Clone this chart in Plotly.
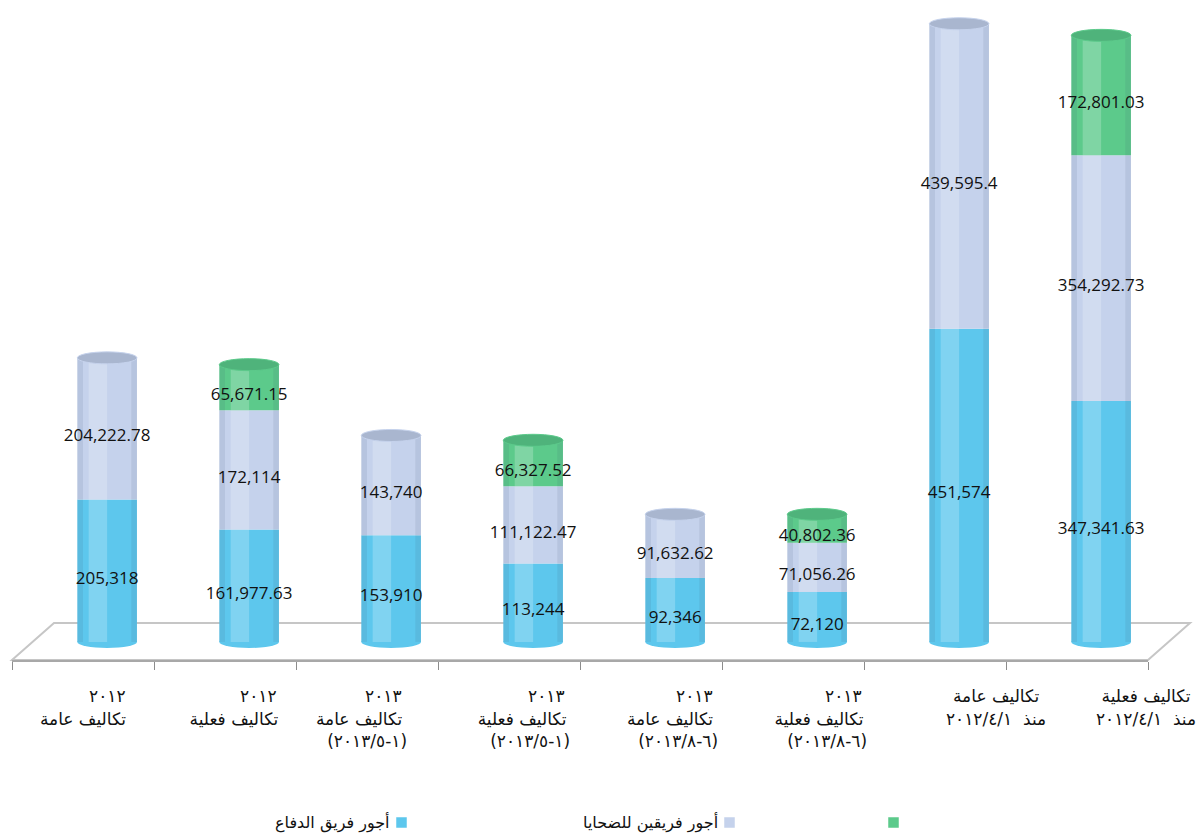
import plotly.graph_objects as go

# ---- data -------------------------------------------------------------
categories = [
    "٢٠١٢<br>تكاليف عامة",
    "٢٠١٢<br>تكاليف فعلية",
    "٢٠١٣<br>تكاليف عامة<br>\u202d(٢٠١٣/٥-١)\u202c",
    "٢٠١٣<br>تكاليف فعلية<br>\u202d(٢٠١٣/٥-١)\u202c",
    "٢٠١٣<br>تكاليف عامة<br>\u202d(٢٠١٣/٨-٦)\u202c",
    "٢٠١٣<br>تكاليف فعلية<br>\u202d(٢٠١٣/٨-٦)\u202c",
    "تكاليف عامة<br>\u202d٢٠١٢/٤/١\u202c  منذ",
    "تكاليف فعلية<br>\u202d٢٠١٢/٤/١\u202c  منذ",
]
defense_fees = [205318, 161977.63, 153910, 113244, 92346, 72120, 451574, 347341.63]
victims_fees = [204222.78, 172114, 143740, 111122.47, 91632.62, 71056.26, 439595.4, 354292.73]
third_series = [None, 65671.15, None, 66327.52, None, 40802.36, None, 172801.03]

series_names = ["أجور فريق الدفاع", "أجور فريقين للضحايا", ""]
series_colors = ["#5dc7ed", "#c5d2ec", "#5cca8b"]
cap_colors = ["#4fb4dc", "#a9b6cf", "#4fb37b"]

# label placement: offset of each label block from its category centre
# (in category widths) and the no-break-space padding that right-aligns
# the short lines of each block
label_shift = [0.0, 0.063, -0.056, 0.092, 0.134, 0.183, 0.43, 0.486]
line_pads = [(9, 0), (9, 0), (9, 0, 3), (9, 0, 3), (9, 0, 3), (9, 0, 3), (0, 0), (0, 0)]

idx = list(range(len(categories)))


def fmt(v):
    return f"{v:,.2f}".rstrip("0").rstrip(".")


def right_aligned(label, pads):
    lines = label.split("<br>")
    return "<br>".join("\u00a0" * n + line for n, line in zip(pads, lines))


tick_labels = [right_aligned(c, p) for c, p in zip(categories, line_pads)]
label_pos = [i + s for i, s in zip(idx, label_shift)]

fig = go.Figure()

series = [defense_fees, victims_fees, third_series]
bases = [[0] * len(idx), list(defense_fees),
         [d + v for d, v in zip(defense_fees, victims_fees)]]

# category axis: boundary ticks only
fig.add_trace(go.Scatter(x=categories, y=[None] * len(idx), showlegend=False,
                         hoverinfo="skip", mode="markers"))
# label axis
fig.add_trace(go.Scatter(x=label_pos, y=[None] * len(idx), xaxis="x3",
                         showlegend=False, hoverinfo="skip", mode="markers"))

for s, (vals, base) in enumerate(zip(series, bases)):
    fig.add_trace(go.Bar(
        x=idx, y=vals, base=base, width=0.42,
        name=series_names[s], xaxis="x2", showlegend=False,
        marker=dict(color=series_colors[s], line=dict(width=0)),
        hoverinfo="skip",
    ))
    # soft highlight and shaded rims give the bars a rounded look
    fig.add_trace(go.Bar(
        x=idx, y=vals, base=base, width=0.13, offset=-0.13,
        xaxis="x2", showlegend=False, hoverinfo="skip",
        marker=dict(color="rgba(255,255,255,0.22)", line=dict(width=0)),
    ))
    for off in (-0.21, 0.17):
        fig.add_trace(go.Bar(
            x=idx, y=vals, base=base, width=0.04, offset=off,
            xaxis="x2", showlegend=False, hoverinfo="skip",
            marker=dict(color="rgba(60,80,110,0.10)", line=dict(width=0)),
        ))

# value labels at the middle of each stacked segment
for s, (vals, base) in enumerate(zip(series, bases)):
    xs, ys, ts = [], [], []
    for i, (v, b) in enumerate(zip(vals, base)):
        if v is None:
            continue
        xs.append(i)
        ys.append(b + v / 2)
        ts.append(fmt(v))
    fig.add_trace(go.Scatter(
        x=xs, y=ys, text=ts, mode="text", textposition="bottom center",
        xaxis="x2", showlegend=False, hoverinfo="skip",
        textfont=dict(family="Open Sans", size=17, color="#111111"),
    ))


def px(x, y):
    return (x - 12) / 1136, (660 - y) / 650


# 3D floor
shapes = []
f = [px(12, 660), px(1148, 660), px(1190, 623), px(54, 623)]
shapes.append(dict(type="path", xref="paper", yref="paper", layer="below",
                   path="M {} {} L {} {} L {} {} L {} {} Z".format(*[c for p in f for c in p]),
                   line=dict(color="#c6c6c6", width=2), fillcolor="white"))

# cylinder ends
ell = 6 * 1442
for i in idx:
    t = defense_fees[i] + victims_fees[i] + (third_series[i] or 0)
    top = 2 if third_series[i] else 1
    shapes.append(dict(type="circle", xref="x2", yref="y", layer="below",
                       x0=i - 0.21, x1=i + 0.21, y0=-ell, y1=ell,
                       fillcolor=series_colors[0], line=dict(width=0)))
    shapes.append(dict(type="circle", xref="x2", yref="y", layer="above",
                       x0=i - 0.21, x1=i + 0.21, y0=t - ell, y1=t + ell,
                       fillcolor=cap_colors[top],
                       line=dict(color=series_colors[top], width=1)))

# legend: text followed by its swatch
annotations = []
for name, right in [(series_names[0], 392), (series_names[1], 720)]:
    annotations.append(dict(
        xref="paper", yref="paper", x=px(right, 0)[0], y=px(0, 822)[1],
        xanchor="right", yanchor="middle", showarrow=False, text=name,
        font=dict(family="DejaVu Sans", size=16, color="#111111"),
    ))
for s, left in enumerate([396, 724, 888]):
    x0, y0 = px(left, 828)
    x1, y1 = px(left + 11, 817)
    shapes.append(dict(type="rect", xref="paper", yref="paper", x0=x0, x1=x1,
                       y0=y0, y1=y1, fillcolor=series_colors[s],
                       line=dict(color="white", width=0.5)))

fig.update_layout(
    width=1197, height=839,
    margin=dict(l=12, r=49, t=10, b=179),
    template="none",
    paper_bgcolor="white", plot_bgcolor="white",
    barmode="overlay",
    shapes=shapes, annotations=annotations,
    showlegend=False,
    xaxis=dict(
        type="category", range=[-0.5, 7.5], tickson="boundaries",
        ticks="outside", ticklen=8, tickcolor="#8c8c8c", tickwidth=1.2,
        showticklabels=False, showgrid=False, zeroline=False,
        showline=True, linecolor="#a8a8a8", linewidth=1.5,
        automargin=False,
    ),
    xaxis2=dict(
        type="linear", range=[-0.67, 7.33], overlaying="x", visible=False,
    ),
    xaxis3=dict(
        type="linear", range=[-0.5, 7.5], overlaying="x", side="bottom",
        tickmode="array", tickvals=label_pos, ticktext=tick_labels,
        ticks="outside", ticklen=8, tickcolor="rgba(0,0,0,0)",
        tickangle=0, showgrid=False, zeroline=False, showline=False,
        automargin=False, ticklabelstandoff=13,
        tickfont=dict(family="DejaVu Sans", size=17, color="#111111"),
    ),
    yaxis=dict(range=[-26000, 911000], visible=False, showgrid=False),
)

fig.write_html("out.html")
